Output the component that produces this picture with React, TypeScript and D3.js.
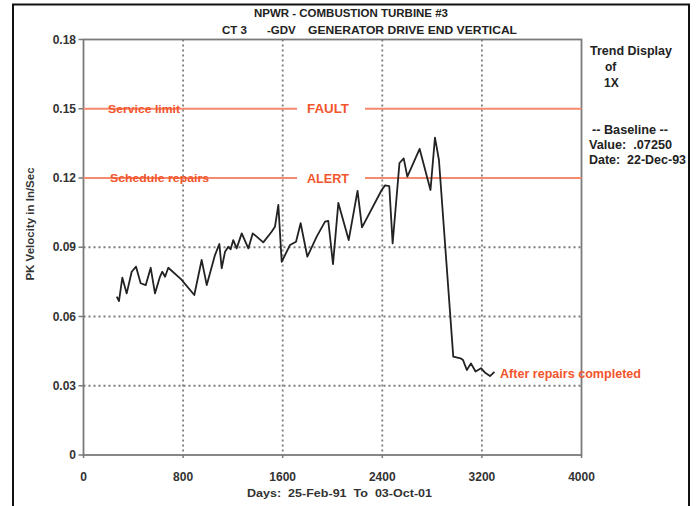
import React from "react";
import * as d3 from "d3";

const days: number[] = [267, 285, 312, 347, 387, 422, 459, 500, 540, 574, 614, 633, 655, 681, 783, 890, 949, 990, 1056, 1091, 1110, 1137, 1163, 1182, 1203, 1230, 1271, 1324, 1359, 1391, 1444, 1511, 1538, 1565, 1592, 1659, 1707, 1744, 1798, 1873, 1940, 1966, 2004, 2047, 2130, 2201, 2237, 2395, 2422, 2456, 2483, 2538, 2572, 2601, 2700, 2787, 2823, 2855, 2970, 3028, 3048, 3079, 3112, 3149, 3193, 3229, 3265, 3301];
const velocity: number[] = [0.0686, 0.0667, 0.0768, 0.07, 0.0794, 0.0816, 0.0744, 0.0736, 0.0811, 0.07, 0.0772, 0.0794, 0.0772, 0.0811, 0.0762, 0.0693, 0.0845, 0.0736, 0.0866, 0.0914, 0.0809, 0.0881, 0.0902, 0.0891, 0.0931, 0.0895, 0.096, 0.0895, 0.096, 0.0946, 0.0921, 0.0967, 0.0989, 0.1083, 0.0837, 0.091, 0.0924, 0.1004, 0.0859, 0.0946, 0.1011, 0.1014, 0.0827, 0.1092, 0.0931, 0.1144, 0.0986, 0.1148, 0.1168, 0.1165, 0.0917, 0.1265, 0.1285, 0.1206, 0.1326, 0.1148, 0.1375, 0.1278, 0.0426, 0.0419, 0.0412, 0.0368, 0.0397, 0.0362, 0.0376, 0.0355, 0.0342, 0.036];

const xTicks: number[] = [0, 800, 1600, 2400, 3200, 4000];
const yTicks: number[] = [0, 0.03, 0.06, 0.09, 0.12, 0.15, 0.18];
const yTickLabels: string[] = ["0", "0.03", "0.06", "0.09", "0.12", "0.15", "0.18"];
const gridX: number[] = [800, 1600, 2400, 3200];
const gridY: number[] = [0.03, 0.06, 0.09];
const limitValues: number[] = [0.15, 0.12];
const limitLeftLabels: string[] = ["Service limit", "Schedule repairs"];
const limitMidLabels: string[] = ["FAULT", "ALERT"];
const sideTexts: string[] = ["Trend Display", "of", "1X", "-- Baseline --", "Value:\u00a0\u00a0.07250", "Date:\u00a0\u00a022-Dec-93"];

const FONT = "'Liberation Sans', Arial, sans-serif";
const RED = "#f2552c";
const RED_LINE = "#f7896c";

export default function App() {
  const x = d3.scaleLinear().domain([0, 4000]).range([83.5, 581.5]);
  const y = d3.scaleLinear().domain([0, 0.18]).range([455, 39.5]);
  const pts: [number, number][] = days.map((d, i) => [d, velocity[i]]);
  const line = d3
    .line<[number, number]>()
    .x((d) => x(d[0]))
    .y((d) => y(d[1]));

  const sideX = [590, 605, 604, 592, 589, 589];
  const sideY = [55, 71, 86.5, 133.5, 148.5, 163.5];
  const sideW = [82, 0, 0, 76, 83, 97];

  return (
    <svg
      width={699}
      height={506}
      style={{ position: "absolute", left: 0, top: 0, background: "#fff" }}
      fontFamily={FONT}
      fontWeight="bold"
    >
      <rect x={13} y={4.5} width={676} height={520} fill="none" stroke="#111" strokeWidth={2} />

      {/* title */}
      <text x={351} y={17} textAnchor="middle" fontSize={11.5} fill="#222" textLength={194} lengthAdjust="spacingAndGlyphs">
        NPWR - COMBUSTION TURBINE #3
      </text>
      <text x={222} y={34} fontSize={11.5} fill="#222">CT 3</text>
      <text x={267} y={34} fontSize={11.5} fill="#222">-GDV</text>
      <text x={308} y={34} fontSize={11.5} fill="#222" textLength={209} lengthAdjust="spacingAndGlyphs">
        GENERATOR DRIVE END VERTICAL
      </text>

      {/* gridlines */}
      <g stroke="#7c7c7c" strokeWidth={1.8} strokeDasharray="2 3" fill="none">
        {gridX.map((t) => (
          <path key={"gx" + t} d={`M${x(t)},${y(0.18)}V${y(0)}`} />
        ))}
        {gridY.map((t) => (
          <path key={"gy" + t} d={`M${x(0)},${y(t)}H${x(4000)}`} />
        ))}
      </g>

      {/* frame of plot */}
      <rect x={x(0)} y={y(0.18)} width={x(4000) - x(0)} height={y(0) - y(0.18)} fill="none" stroke="#7a7a7a" strokeWidth={1.8} />

      {/* y ticks */}
      {yTicks.map((t, i) => (
        <g key={"yt" + t}>
          <line x1={x(0) - 5} x2={x(0)} y1={y(t)} y2={y(t)} stroke="#7a7a7a" strokeWidth={1.5} />
          <text x={76} y={y(t) + 4} textAnchor="end" fontSize={12} fill="#333">
            {yTickLabels[i]}
          </text>
        </g>
      ))}
      {/* x ticks */}
      {xTicks.map((t) => (
        <g key={"xt" + t}>
          <line x1={x(t)} x2={x(t)} y1={y(0)} y2={y(0) + 3} stroke="#7a7a7a" strokeWidth={1.5} />
          <text x={x(t)} y={481} textAnchor="middle" fontSize={12} fill="#333">
            {t}
          </text>
        </g>
      ))}

      <text x={247} y={497} fontSize={11.5} fill="#333" textLength={185} lengthAdjust="spacingAndGlyphs">
        {"Days:\u00a0\u00a025-Feb-91\u00a0\u00a0To\u00a0\u00a003-Oct-01"}
      </text>
      <text transform="translate(34,224) rotate(-90)" textAnchor="middle" fontSize={11.5} fill="#333">
        PK Velocity in In/Sec
      </text>

      {/* limit lines */}
      {limitValues.map((v, i) => (
        <g key={"lim" + v}>
          <line x1={x(0)} x2={297} y1={y(v)} y2={y(v)} stroke={RED_LINE} strokeWidth={2} />
          <line x1={365} x2={x(4000)} y1={y(v)} y2={y(v)} stroke={RED_LINE} strokeWidth={2} />
          <text x={i === 0 ? 108 : 110} y={y(v) + 4} fontSize={11.5} fill={RED} textLength={i === 0 ? 72 : 99} lengthAdjust="spacingAndGlyphs">
            {limitLeftLabels[i]}
          </text>
          <text x={307} y={y(v) + 4.5} fontSize={12.5} fill={RED} textLength={42} lengthAdjust="spacingAndGlyphs">
            {limitMidLabels[i]}
          </text>
        </g>
      ))}

      {/* data */}
      <path d={line(pts) || ""} fill="none" stroke="#222" strokeWidth={1.8} strokeLinejoin="round" />

      <text x={500} y={378} fontSize={12} fill={RED} textLength={141} lengthAdjust="spacingAndGlyphs">
        After repairs completed
      </text>

      {sideTexts.map((s, i) => (
        <text
          key={"s" + i}
          x={sideX[i]}
          y={sideY[i]}
          fontSize={12}
          fill="#222"
          textLength={sideW[i] || undefined}
          lengthAdjust="spacingAndGlyphs"
        >
          {s}
        </text>
      ))}
    </svg>
  );
}
